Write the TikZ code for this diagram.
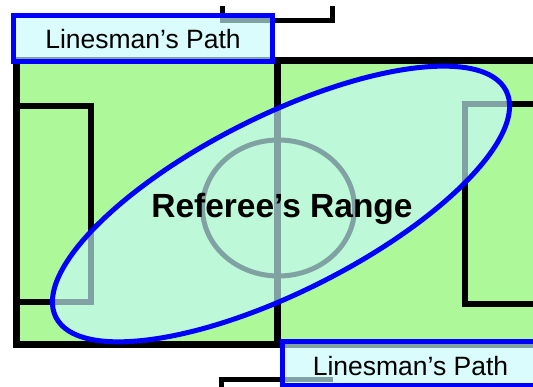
\documentclass[tikz,border=0pt]{standalone}
\usepackage{fontspec}
\setmainfont{Liberation Sans}
\definecolor{fieldgreen}{RGB}{173,249,154}
\definecolor{glass}{RGB}{198,250,250}
\definecolor{pathblue}{RGB}{0,0,255}
\tikzset{
  fieldline/.style={line width=7pt, black, line join=miter},
  boxline/.style={line width=6pt, black, line join=miter},
  bracketline/.style={line width=5pt, black, line join=miter},
  linebox/.style={draw=pathblue, line width=5pt, fill=glass, fill opacity=0.65, text opacity=1,
    rectangle, inner sep=0pt},
  linetext/.style={font=\fontsize{26.5}{32}\selectfont, inner sep=0pt, anchor=base},
  rangeellipse/.style={draw=pathblue, line width=5pt, fill=glass, fill opacity=0.65}
}
\begin{document}
\begin{tikzpicture}[x=1pt,y=1pt]
\useasboundingbox (0,0) rectangle (533,-387);
\clip (0,0) rectangle (533,-387);
% field
\fill[fieldgreen] (16.5,-60.5) rectangle (545,-345);
\draw[fieldline] (545,-60.5) -- (16.5,-60.5) -- (16.5,-345) -- (545,-345);
\draw[fieldline] (277.5,-60.5) -- (277.5,-345);
\draw[boxline] (16.5,-106) -- (91,-106) -- (91,-302) -- (16.5,-302);
\draw[boxline] (545,-104) -- (464.5,-104) -- (464.5,-304) -- (545,-304);
\draw[line width=5pt] (278.5,-208) ellipse [x radius=76, y radius=68];
% brackets
\draw[bracketline] (222,-6) -- (222,-20.5) -- (332,-20.5) -- (332,-6);
\draw[bracketline] (221,-395) -- (221,-380) -- (333,-380);
% referee range
\coordinate (c) at (281,-204);
\draw[rangeellipse, rotate around={26.7:(c)}] (c) ellipse [x radius=252, y radius=88];
\node[font=\bfseries\fontsize{33.5}{40}\selectfont, anchor=base, inner sep=0pt] (ref) at (282,-217.3) {Referee’s Range};
% linesman paths
\node[linebox, minimum width=259pt, minimum height=46pt] (topbox) at (143,-38.5) {};
\node[linetext] (toptext) at (143,-49) {Linesman’s Path};
\node[linebox, minimum width=300pt, minimum height=43.5pt, anchor=west] (bottombox) at (280,-363.75) {};
\node[linetext] (bottomtext) at (410.5,-376) {Linesman’s Path};
\end{tikzpicture}
\end{document}
